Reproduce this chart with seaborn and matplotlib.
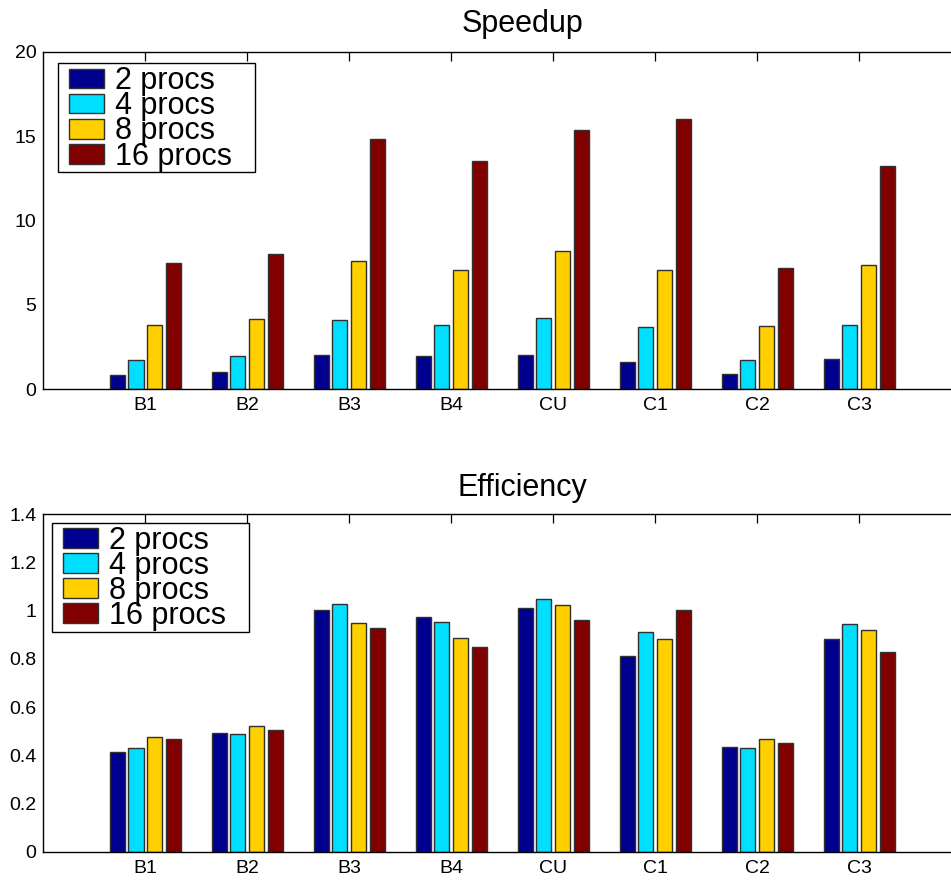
import numpy as np
import pandas as pd
import seaborn as sns
import matplotlib
matplotlib.use('Agg')
import matplotlib.pyplot as plt
from matplotlib.patches import Rectangle

# values
cases = ['B1', 'B2', 'B3', 'B4', 'CU', 'C1', 'C2', 'C3']
procs = ['2 procs', '4 procs', '8 procs', '16 procs']

speedup_2 = [0.85, 1.00, 2.03, 1.97, 2.03, 1.64, 0.89, 1.80]
speedup_4 = [1.72, 1.95, 4.11, 3.81, 4.21, 3.67, 1.74, 3.79]
speedup_8 = [3.79, 4.19, 7.60, 7.09, 8.19, 7.07, 3.75, 7.36]
speedup_16 = [7.46, 8.04, 14.81, 13.54, 15.38, 16.01, 7.19, 13.25]

eff_2 = [0.415, 0.491, 1.003, 0.974, 1.010, 0.813, 0.434, 0.884]
eff_4 = [0.430, 0.488, 1.026, 0.952, 1.049, 0.913, 0.432, 0.943]
eff_8 = [0.474, 0.523, 0.950, 0.887, 1.024, 0.884, 0.468, 0.920]
eff_16 = [0.469, 0.505, 0.927, 0.849, 0.963, 1.003, 0.450, 0.829]

colors = ['#00008F', '#00DFFF', '#FFCF00', '#800000']


def long_table(series):
    '''stack the per-procs lists into one long dataframe for seaborn'''
    rows = []
    for p, vals in zip(procs, series):
        for c, v in zip(cases, vals):
            rows.append({'case': c, 'procs': p, 'value': v})
    return pd.DataFrame(rows)


def draw_panel(ax, df, title, yticks, ylim, box, leg_anchor, title_y):
    sns.barplot(data=df, x='case', y='value', hue='procs', order=cases,
                hue_order=procs, palette=colors, width=0.727, gap=0.19,
                edgecolor='#303030', linewidth=1.0, saturation=1, ax=ax)

    # categories sit at 0..7, MATLAB style axis starts one slot to the left
    ax.set_xlim(-1, 7.9)
    ax.set_ylim(*ylim)
    ax.set_yticks(yticks)
    ax.set_yticklabels(['%g' % t for t in yticks])
    ax.set_xlabel('')
    ax.set_ylabel('')

    ax.tick_params(axis='both', direction='in', length=6.5, width=0.9,
                   labelsize=14, color='black', labelcolor='black')
    ax.tick_params(axis='x', top=True, pad=5.8)
    ax.tick_params(axis='y', pad=4.8)

    for side in ['left', 'top', 'bottom']:
        ax.spines[side].set_visible(True)
        ax.spines[side].set_color('black')
        ax.spines[side].set_linewidth(1.0)
    ax.spines['right'].set_visible(False)

    # legend box drawn by hand so the padding can match the MATLAB one
    ax.add_patch(Rectangle(box[:2], box[2], box[3], transform=ax.transAxes,
                           facecolor='white', edgecolor='black', lw=1.0,
                           zorder=4, clip_on=False))
    handles, labels = ax.get_legend_handles_labels()
    leg = ax.legend(handles, labels, loc='upper left', bbox_to_anchor=leg_anchor,
                    borderaxespad=0, fontsize=22, frameon=False,
                    labelspacing=-0.16, handlelength=1.14, handleheight=0.62,
                    handletextpad=0.35, borderpad=0)
    leg.set_zorder(5)

    ax.text(0.528, title_y, title, transform=ax.transAxes, ha='center',
            va='baseline', fontsize=22, color='black')


sns.set_style('white')
plt.rcParams['font.family'] = ['Liberation Sans', 'DejaVu Sans']
plt.rcParams['text.color'] = 'black'

fig = plt.figure(figsize=(9.51, 8.82), dpi=100)
ax1 = fig.add_axes([0.0455, 0.5586, 0.9545, 0.3828])
ax2 = fig.add_axes([0.0455, 0.0344, 0.9545, 0.3825])

speed_df = long_table([speedup_2, speedup_4, speedup_8, speedup_16])
eff_df = long_table([eff_2, eff_4, eff_8, eff_16])

draw_panel(ax1, speed_df, 'Speedup', [0, 5, 10, 15, 20], (0, 20),
           (0.0165, 0.6437, 0.2170, 0.3220), (0.0286, 0.957), 1.059)
draw_panel(ax2, eff_df, 'Efficiency', [0, 0.2, 0.4, 0.6, 0.8, 1.0, 1.2, 1.4],
           (0, 1.4), (0.0093, 0.6512, 0.2170, 0.3222), (0.0220, 0.966), 1.054)

plt.savefig('out.png', dpi=100)
